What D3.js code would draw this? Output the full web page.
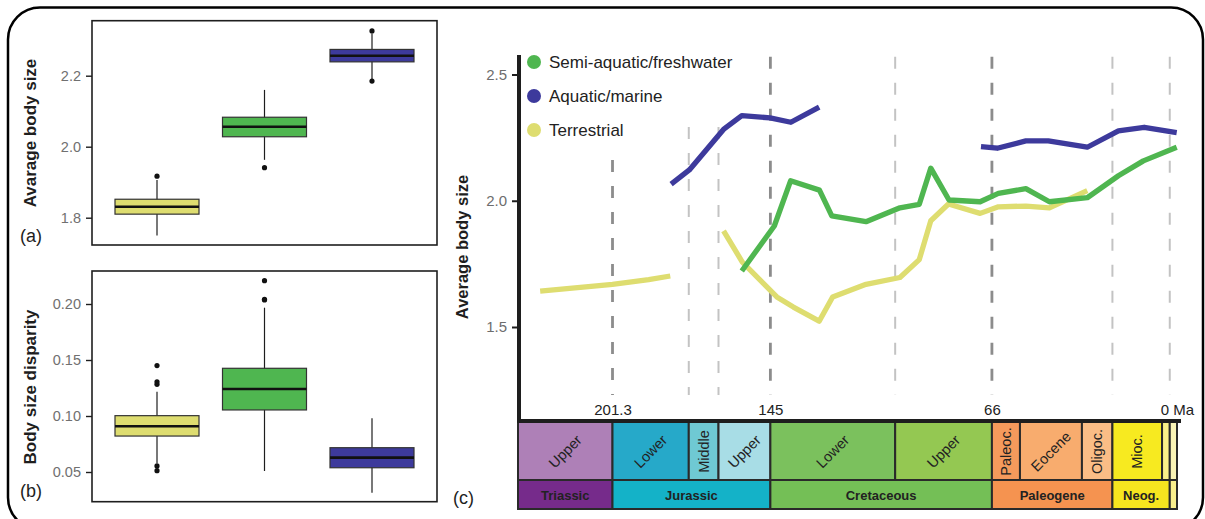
<!DOCTYPE html>
<html><head><meta charset="utf-8">
<script src="https://cdn.jsdelivr.net/npm/d3@7"></script>
<style>
body{margin:0;background:#fff}
svg{display:block}
text{font-family:"Liberation Sans",Arial,Helvetica,sans-serif}
</style>
</head><body>
<svg id="chart" width="1205" height="519"></svg>
<script>
// ---------------- DATA ----------------
const groups = ["Terrestrial", "Semi-aquatic/freshwater", "Aquatic/marine"];
const groupColors = ["#dedd70", "#4fb650", "#3d3a9c"];

// Panel (a): [lower whisker, Q1, median, Q3, upper whisker]
const sizeStats = [
  [1.750, 1.810, 1.831, 1.852, 1.906],
  [1.963, 2.028, 2.056, 2.083, 2.160],
  [2.191, 2.239, 2.256, 2.274, 2.319]
];
const sizeOutliers = [[1.917], [1.941], [2.326, 2.185]];
const sizeTicks = [1.8, 2.0, 2.2];

// Panel (b)
const dispStats = [
  [0.0578, 0.0821, 0.0908, 0.1003, 0.1217],
  [0.0509, 0.1054, 0.1241, 0.1426, 0.1967],
  [0.0315, 0.0538, 0.0628, 0.0717, 0.0980]
];
const dispOutliers = [[0.145, 0.1306, 0.1283, 0.0554, 0.0512], [0.2208, 0.2042, 0.2036], []];
const dispTicks = [0.05, 0.10, 0.15, 0.20];

// Panel (c): time series (age in Ma, average body size); null = gap
const semiAquaticAge  = [155.2, 143.6, 137.8, 127.5, 123.1, 110.9, 98.8, 91.9, 87.8, 81.3, 70.2, 63.7, 53.9, 45.5, 32.0, 20.9, 12.0, 0.1];
const semiAquaticSize = [1.722, 1.900, 2.079, 2.042, 1.940, 1.917, 1.972, 1.986, 2.129, 2.003, 1.996, 2.029, 2.048, 1.996, 2.012, 2.099, 2.158, 2.212];
const marineAge  = [180.4, 173.9, 161.5, 155.2, 145.1, 137.7, 127.6, 100, 69.9, 64.1, 53.9, 45.9, 32.0, 20.9, 11.7, 0.1];
const marineSize = [2.066, 2.122, 2.285, 2.337, 2.328, 2.311, 2.371, null, 2.214, 2.208, 2.237, 2.237, 2.212, 2.277, 2.291, 2.270];
const terrestrialAge  = [227.1, 201.3, 188.4, 180.7, 170, 161.7, 155.0, 142.7, 136.8, 127.6, 122.8, 110.9, 98.8, 91.9, 87.8, 81.5, 70.2, 63.7, 53.9, 45.5, 32.0];
const terrestrialSize = [1.642, 1.669, 1.688, 1.702, null, 1.881, 1.757, 1.619, 1.579, 1.523, 1.619, 1.669, 1.696, 1.767, 1.921, 1.987, 1.950, 1.976, 1.979, 1.972, 2.040];

const sizeTicksC = [1.5, 2.0, 2.5];
const ageTicks = [201.3, 145, 66, 0];
const ageTickLabels = ["201.3", "145", "66", "0 Ma"];

// Boundary lines (age, top value, major?)
const boundaryAge = [201.3, 174.1, 163.5, 145, 100.5, 66, 23.03, 2.58];
const boundaryTop = [2.161, 2.292, 2.292, 2.570, 2.570, 2.570, 2.570, 2.570];
const boundaryMajor = [true, false, false, true, false, true, false, false];

// Geological timescale
const epochNames = ["Upper", "Lower", "Middle", "Upper", "Lower", "Upper", "Paleoc.", "Eocene", "Oligoc.", "Mioc.", "", ""];
const epochStart = [235, 201.3, 174.1, 163.5, 145, 100.5, 66, 56, 33.9, 23.03, 5.333, 2.58];
const epochEnd   = [201.3, 174.1, 163.5, 145, 100.5, 66, 56, 33.9, 23.03, 5.333, 2.58, 0];
const epochColors = ["#ae80b7", "#26a9c9", "#6fc9d3", "#a8dde6", "#7bc15d", "#94c852", "#f59a5c", "#f8ac6e", "#fabd86", "#f7ea20", "#f9f088", "#f9f3b5"];
const epochVertical = [false, false, true, false, false, false, true, false, true, true, false, false];
const periodNames = ["Triassic", "Jurassic", "Cretaceous", "Paleogene", "Neog.", ""];
const periodStart = [235, 201.3, 145, 66, 23.03, 2.58];
const periodEnd   = [201.3, 145, 66, 23.03, 2.58, 0];
const periodColors = ["#762b8b", "#14b2c8", "#74bf56", "#f59350", "#f6e51f", "#f8ee8c"];

// ---------------- DRAW ----------------
const svg = d3.select("#chart");
const ink = "#1e1e1e";

// outer rounded frame
svg.append("rect").attr("x", 8).attr("y", 7.5).attr("width", 1195).attr("height", 522)
  .attr("rx", 32).attr("fill", "none").attr("stroke", "#000").attr("stroke-width", 2.5);

function boxPanel(opts) {
  const g = svg.append("g");
  const y = d3.scaleLinear().domain(opts.yDom).range(opts.yRange);
  const x = d3.scalePoint().domain(groups).range([157, 372]);
  const bw = 84;
  g.append("rect").attr("x", 92).attr("y", opts.top).attr("width", 345).attr("height", opts.bottom - opts.top)
    .attr("fill", "none").attr("stroke", ink).attr("stroke-width", 1.6);
  const ax = g.append("g").attr("transform", "translate(92,0)")
    .call(d3.axisLeft(y).tickValues(opts.ticks).tickSize(6).tickPadding(5).tickFormat(d3.format(opts.fmt)));
  ax.select(".domain").remove();
  ax.selectAll(".tick line").attr("stroke", ink).attr("stroke-width", 1.4);
  ax.selectAll(".tick text").attr("fill", "#707070").attr("font-size", 14.5)
    .style("font-family", '"Liberation Sans",Arial,sans-serif');
  groups.forEach((gr, i) => {
    const s = opts.stats[i];
    const cx = x(gr);
    g.append("line").attr("x1", cx).attr("x2", cx).attr("y1", y(s[0])).attr("y2", y(s[4]))
      .attr("stroke", ink).attr("stroke-width", 1.2);
    g.append("rect").attr("x", cx - bw / 2).attr("y", y(s[3])).attr("width", bw).attr("height", y(s[1]) - y(s[3]))
      .attr("fill", groupColors[i]).attr("stroke", "#333").attr("stroke-width", 1.2);
    g.append("line").attr("x1", cx - bw / 2).attr("x2", cx + bw / 2).attr("y1", y(s[2])).attr("y2", y(s[2]))
      .attr("stroke", "#111").attr("stroke-width", 2.6);
    g.selectAll(null).data(opts.outliers[i]).enter().append("circle")
      .attr("cx", cx).attr("cy", d => y(d)).attr("r", 2.6).attr("fill", "#111");
  });
  g.append("text").attr("transform", `translate(36,${opts.labelY}) rotate(-90)`)
    .attr("text-anchor", "middle").attr("font-size", 17).attr("font-weight", "bold").attr("fill", ink)
    .text(opts.label);
  g.append("text").attr("x", 20).attr("y", opts.tagY).attr("font-size", 18).attr("fill", ink).text(opts.tag);
}

boxPanel({ yDom: [1.8, 2.2], yRange: [217.7, 75.7], top: 20.7, bottom: 245, ticks: sizeTicks, fmt: ".1f",
  stats: sizeStats, outliers: sizeOutliers, label: "Avarage body size", labelY: 133, tag: "(a)", tagY: 242 });
boxPanel({ yDom: [0.05, 0.20], yRange: [472, 304], top: 271, bottom: 501.7, ticks: dispTicks, fmt: ".2f",
  stats: dispStats, outliers: dispOutliers, label: "Body size disparity", labelY: 387, tag: "(b)", tagY: 497 });

// ---------- Panel (c) ----------
const xc = d3.scaleLinear().domain([235, 0]).range([518, 1177]);
const yc = d3.scaleLinear().domain([1.5, 2.5]).range([327, 74.5]);
const gc = svg.append("g");

boundaryAge.forEach((a, i) => {
  gc.append("line").attr("x1", xc(a)).attr("x2", xc(a)).attr("y1", yc(boundaryTop[i])).attr("y2", 395)
    .attr("stroke", boundaryMajor[i] ? "#8c8c8c" : "#c3c3c3")
    .attr("stroke-width", boundaryMajor[i] ? 2.8 : 2)
    .attr("stroke-dasharray", "12,14");
});

const seriesList = [
  { age: terrestrialAge, size: terrestrialSize, color: groupColors[0] },
  { age: semiAquaticAge, size: semiAquaticSize, color: groupColors[1] },
  { age: marineAge, size: marineSize, color: groupColors[2] }
];
const line = d3.line().defined(d => d[1] !== null).x(d => xc(d[0])).y(d => yc(d[1]));
seriesList.forEach(s => {
  gc.append("path").datum(s.age.map((a, i) => [a, s.size[i]]))
    .attr("d", line).attr("fill", "none").attr("stroke", s.color)
    .attr("stroke-width", 5.3).attr("stroke-linejoin", "round");
});

const tsTop = 421, tsMid = 480, tsBot = 509;
epochNames.forEach((n, i) => {
  const x0 = xc(epochStart[i]), x1 = xc(epochEnd[i]);
  gc.append("rect").attr("x", x0).attr("y", tsTop).attr("width", x1 - x0).attr("height", tsMid - tsTop)
    .attr("fill", epochColors[i]).attr("stroke", "#2a2a2a").attr("stroke-width", 2);
  if (n) {
    const cx = (x0 + x1) / 2, cy = (tsTop + tsMid) / 2 + 1;
    gc.append("text").attr("transform", `translate(${cx},${cy}) rotate(${epochVertical[i] ? -90 : -45})`)
      .attr("text-anchor", "middle").attr("dominant-baseline", "central")
      .attr("font-size", 14.5).attr("fill", "#222").text(n);
  }
});
periodNames.forEach((n, i) => {
  const x0 = xc(periodStart[i]), x1 = xc(periodEnd[i]);
  gc.append("rect").attr("x", x0).attr("y", tsMid).attr("width", x1 - x0).attr("height", tsBot - tsMid)
    .attr("fill", periodColors[i]).attr("stroke", "#2a2a2a").attr("stroke-width", 2);
  if (n) {
    gc.append("text").attr("x", (x0 + x1) / 2).attr("y", (tsMid + tsBot) / 2 + 1)
      .attr("text-anchor", "middle").attr("dominant-baseline", "central")
      .attr("font-size", 13).attr("font-weight", "bold").attr("fill", "#222").text(n);
  }
});

const yAx = gc.append("g").attr("transform", "translate(519,0)")
  .call(d3.axisLeft(yc).tickValues(sizeTicksC).tickSize(7).tickPadding(5).tickFormat(d3.format(".1f")));
yAx.select(".domain").remove();
yAx.selectAll(".tick line").attr("stroke", ink).attr("stroke-width", 2);
yAx.selectAll(".tick text").attr("fill", "#6d6d6d").attr("font-size", 15)
  .style("font-family", '"Liberation Sans",Arial,sans-serif');
gc.append("line").attr("x1", 519).attr("x2", 519).attr("y1", 55).attr("y2", 423)
  .attr("stroke", ink).attr("stroke-width", 4);

const xAx = gc.append("g").attr("transform", `translate(0,${tsTop})`)
  .call(d3.axisTop(xc).tickValues(ageTicks).tickSize(0).tickPadding(6)
    .tickFormat((d, i) => ageTickLabels[i]));
xAx.select(".domain").remove();
xAx.selectAll(".tick text").attr("fill", "#222").attr("font-size", 15)
  .style("font-family", '"Liberation Sans",Arial,sans-serif');
gc.append("line").attr("x1", 517).attr("x2", 1181).attr("y1", tsTop).attr("y2", tsTop)
  .attr("stroke", ink).attr("stroke-width", 4);

gc.append("text").attr("transform", "translate(468,247) rotate(-90)")
  .attr("text-anchor", "middle").attr("font-size", 16.5).attr("font-weight", "bold").attr("fill", ink)
  .text("Average body size");
gc.append("text").attr("x", 453).attr("y", 504).attr("font-size", 18).attr("fill", ink).text("(c)");

const legOrder = [1, 2, 0];
legOrder.forEach((gi, k) => {
  const ly = 62 + k * 34;
  gc.append("circle").attr("cx", 534).attr("cy", ly).attr("r", 7).attr("fill", groupColors[gi]);
  gc.append("text").attr("x", 549).attr("y", ly).attr("dominant-baseline", "central")
    .attr("font-size", 17).attr("fill", "#222").text(groups[gi]);
});
</script>
</body></html>
